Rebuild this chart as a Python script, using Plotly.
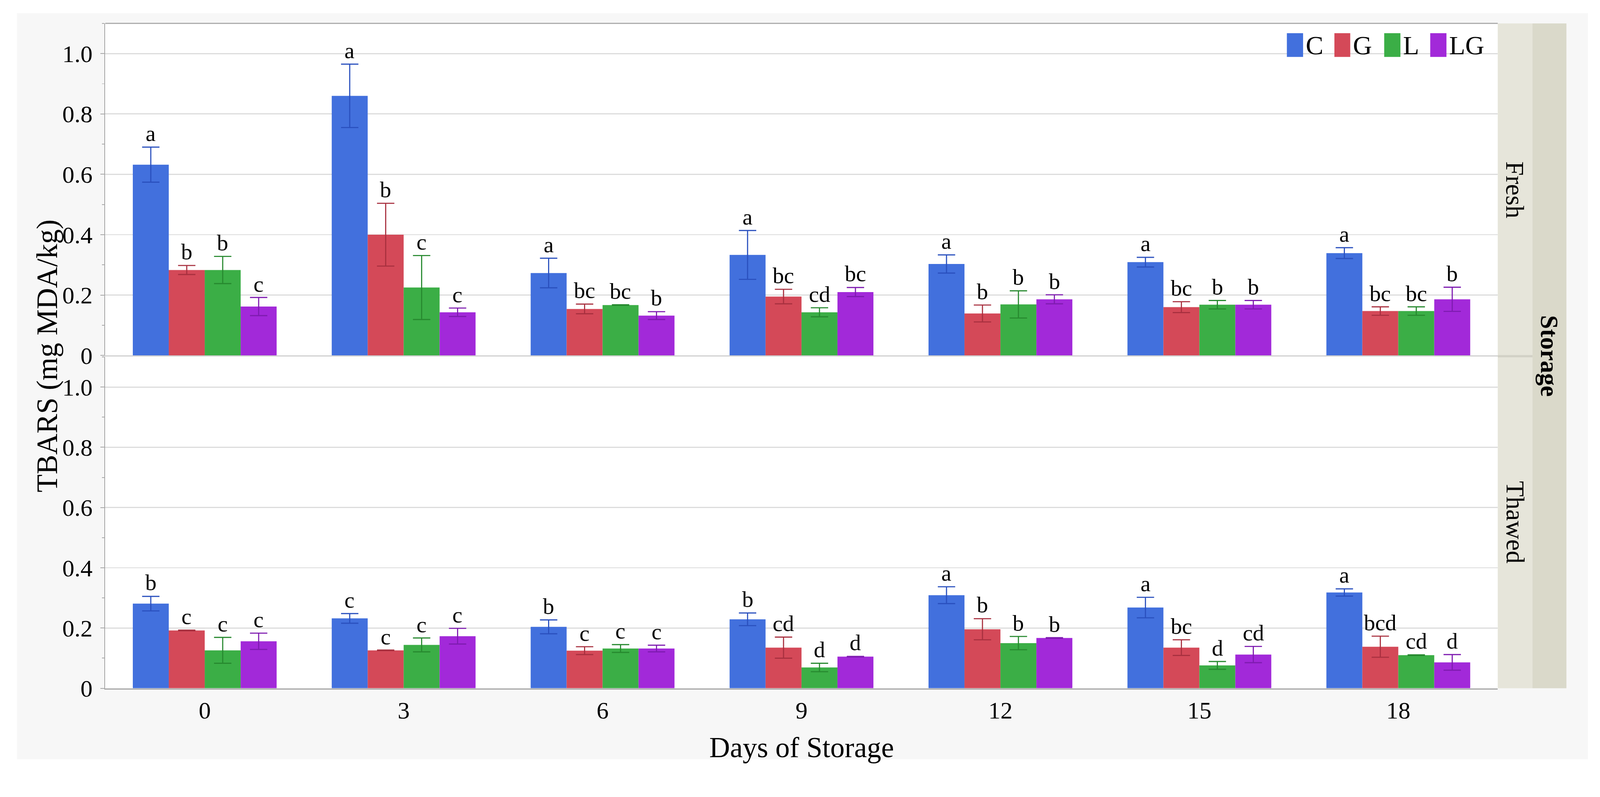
import plotly.graph_objects as go

days = ["0", "3", "6", "9", "12", "15", "18"]
treatments = ["C", "G", "L", "LG"]
bar_colors = ["#4270DD", "#D44958", "#3BAE46", "#A229D9"]
err_colors = ["#2A50BE", "#A8303F", "#27892F", "#7E1BB0"]

# Fresh storage (top panel)
fresh_C = [0.632, 0.860, 0.273, 0.333, 0.303, 0.309, 0.339]
fresh_C_sd = [0.058, 0.105, 0.049, 0.081, 0.030, 0.016, 0.018]
fresh_G = [0.283, 0.400, 0.154, 0.195, 0.139, 0.160, 0.147]
fresh_G_sd = [0.015, 0.104, 0.016, 0.024, 0.028, 0.018, 0.014]
fresh_L = [0.283, 0.225, 0.167, 0.143, 0.169, 0.168, 0.147]
fresh_L_sd = [0.045, 0.106, 0.001, 0.015, 0.045, 0.014, 0.014]
fresh_LG = [0.162, 0.143, 0.132, 0.210, 0.186, 0.168, 0.186]
fresh_LG_sd = [0.030, 0.014, 0.013, 0.015, 0.015, 0.014, 0.040]

fresh_C_let = ["a", "a", "a", "a", "a", "a", "a"]
fresh_G_let = ["b", "b", "bc", "bc", "b", "bc", "bc"]
fresh_L_let = ["b", "c", "bc", "cd", "b", "b", "bc"]
fresh_LG_let = ["c", "c", "b", "bc", "b", "b", "b"]

# Thawed storage (bottom panel)
thawed_C = [0.281, 0.232, 0.204, 0.229, 0.309, 0.268, 0.318]
thawed_C_sd = [0.024, 0.016, 0.023, 0.021, 0.028, 0.034, 0.012]
thawed_G = [0.192, 0.126, 0.125, 0.135, 0.196, 0.135, 0.138]
thawed_G_sd = [0.001, 0.001, 0.013, 0.035, 0.035, 0.026, 0.035]
thawed_L = [0.126, 0.144, 0.132, 0.069, 0.150, 0.076, 0.110]
thawed_L_sd = [0.043, 0.023, 0.013, 0.014, 0.022, 0.013, 0.001]
thawed_LG = [0.156, 0.173, 0.132, 0.105, 0.167, 0.112, 0.086]
thawed_LG_sd = [0.027, 0.026, 0.011, 0.001, 0.001, 0.027, 0.026]

thawed_C_let = ["b", "c", "b", "b", "a", "a", "a"]
thawed_G_let = ["c", "c", "c", "cd", "b", "bc", "bcd"]
thawed_L_let = ["c", "c", "c", "d", "b", "d", "cd"]
thawed_LG_let = ["c", "c", "c", "d", "b", "cd", "d"]

fresh = [(fresh_C, fresh_C_sd, fresh_C_let), (fresh_G, fresh_G_sd, fresh_G_let),
         (fresh_L, fresh_L_sd, fresh_L_let), (fresh_LG, fresh_LG_sd, fresh_LG_let)]
thawed = [(thawed_C, thawed_C_sd, thawed_C_let), (thawed_G, thawed_G_sd, thawed_G_let),
          (thawed_L, thawed_L_sd, thawed_L_let), (thawed_LG, thawed_LG_sd, thawed_LG_let)]

FONT = "Liberation Serif"
W, H = 4241, 2041
L_M, R_M, T_M, B_M = 279, 271, 62, 216
PW, PH = W - L_M - R_M, H - T_M - B_M
BARGAP = 0.277
xpos = list(range(len(days)))


def px_x(p):
    return (p - L_M) / PW


def px_y(p):
    return (H - B_M - p) / PH


fig = go.Figure()
annotations = []
bw = (1 - BARGAP) / len(treatments)

for panel, (data, xa, ya) in enumerate([(fresh, "x2", "y2"), (thawed, "x", "y")]):
    for j, (vals, sds, lets) in enumerate(data):
        fig.add_trace(go.Bar(
            x=xpos, y=vals, name=treatments[j], xaxis=xa, yaxis=ya,
            marker=dict(color=bar_colors[j], line=dict(width=0)),
            error_y=dict(type="data", array=sds, color=err_colors[j], thickness=3, width=23),
            showlegend=False, offsetgroup=str(j),
        ))
        off = (j - (len(treatments) - 1) / 2) * bw
        for i in xpos:
            annotations.append(dict(
                x=i + off, y=vals[i] + sds[i], xref=xa, yref=ya, text=lets[i],
                showarrow=False, yanchor="bottom", xanchor="center", yshift=1,
                font=dict(family=FONT, size=60, color="black")))

# manual legend
leg_sw = [(3411, 3454), (3537, 3579), (3669, 3712), (3791, 3834)]
shapes = [
    dict(type="rect", xref="paper", yref="paper", x0=px_x(45), x1=px_x(4209), y0=px_y(2013), y1=px_y(35),
         fillcolor="#F7F7F7", line=dict(width=0), layer="below"),
    dict(type="rect", xref="paper", yref="paper", x0=0, x1=1, y0=0, y1=1,
         fillcolor="white", line=dict(width=0), layer="below"),
    dict(type="rect", xref="paper", yref="paper", x0=1, x1=px_x(4062), y0=0, y1=1,
         fillcolor="#E6E5DA", line=dict(width=0), layer="below"),
    dict(type="rect", xref="paper", yref="paper", x0=px_x(4062), x1=px_x(4152), y0=0, y1=1,
         fillcolor="#DAD9CA", line=dict(width=0), layer="below"),
    dict(type="line", xref="paper", yref="paper", x0=1, x1=px_x(4062), y0=0.4995, y1=0.4995,
         line=dict(color="#D2D1C6", width=6)),
    dict(type="line", xref="paper", yref="paper", x0=0, x1=1, y0=1, y1=1,
         line=dict(color="#A6A6A6", width=3)),
]
for j, (a, b) in enumerate(leg_sw):
    shapes.append(dict(type="rect", xref="paper", yref="paper", x0=px_x(a), x1=px_x(b),
                       y0=px_y(151), y1=px_y(88), fillcolor=bar_colors[j], line=dict(width=0)))
    annotations.append(dict(x=px_x(b + 5), y=px_y(121), xref="paper", yref="paper", text=treatments[j],
                            showarrow=False, xanchor="left", yanchor="middle",
                            font=dict(family=FONT, size=70, color="black")))

annotations += [
    dict(x=px_x(4016), y=0.75, xref="paper", yref="paper", text="Fresh", textangle=90,
         xanchor="center", yanchor="middle",
         showarrow=False, font=dict(family=FONT, size=68, color="black")),
    dict(x=px_x(4016), y=0.25, xref="paper", yref="paper", text="Thawed", textangle=90,
         xanchor="center", yanchor="middle",
         showarrow=False, font=dict(family=FONT, size=68, color="black")),
    dict(x=px_x(4107), y=0.5, xref="paper", yref="paper", text="<b>Storage</b>", textangle=90,
         xanchor="center", yanchor="middle",
         showarrow=False, font=dict(family=FONT, size=66, color="black")),
    dict(x=px_x(125), y=0.5, xref="paper", yref="paper", text="TBARS (mg MDA/kg)", textangle=-90,
         xanchor="center", yanchor="middle",
         showarrow=False, font=dict(family=FONT, size=78, color="black")),
    dict(x=0.5, y=px_y(1982), xref="paper", yref="paper", text="Days of Storage",
         xanchor="center", yanchor="middle",
         showarrow=False, font=dict(family=FONT, size=76, color="black")),
]

ytick_vals = [0, 0.2, 0.4, 0.6, 0.8, 1.0]
ytick_text = ["0", "0.2", "0.4", "0.6", "0.8", "1.0"]
yax = dict(range=[0, 1.1], tickvals=ytick_vals, ticktext=ytick_text, showgrid=True,
           gridcolor="#DCDCDC", gridwidth=3, zeroline=False, showline=True, linecolor="#A6A6A6",
           linewidth=3, ticks="outside", ticklen=10, tickwidth=2, tickcolor="#A6A6A6",
           ticklabelstandoff=8, tickfont=dict(family=FONT, size=64, color="black"),
           minor=dict(tickmode="linear", tick0=0, dtick=0.1, ticks="outside", ticklen=6,
                      tickcolor="#A6A6A6", showgrid=False))

fig.update_layout(
    width=W, height=H,
    margin=dict(l=L_M, r=R_M, t=T_M, b=B_M, pad=0),
    paper_bgcolor="white", plot_bgcolor="white",
    barmode="group", bargap=BARGAP, bargroupgap=0,
    showlegend=False,
    font=dict(family=FONT, color="black"),
    xaxis=dict(domain=[0, 1], anchor="y", range=[-0.5, 6.5], tickvals=xpos, ticktext=days,
               showgrid=False, zeroline=False, showline=True, linecolor="#A6A6A6", linewidth=3,
               ticks="", tickfont=dict(family=FONT, size=64, color="black")),
    xaxis2=dict(domain=[0, 1], anchor="y2", matches="x", range=[-0.5, 6.5], showticklabels=False,
                showgrid=False, zeroline=False, showline=True, linecolor="#D0D0D0", linewidth=3, ticks=""),
    yaxis=dict(domain=[0, 0.4984], anchor="x", **yax),
    yaxis2=dict(domain=[0.5006, 1], anchor="x2", **yax),
    shapes=shapes,
    annotations=annotations,
)

post = (
    "document.documentElement.style.margin='0';document.body.style.margin='0';"
    "document.body.style.overflow='hidden';"
    "var gd=document.getElementById('{plot_id}');"
    "var s=Math.min(window.innerWidth/%d, window.innerHeight/%d);"
    "if(s<1){gd.style.transformOrigin='0 0';gd.style.transform='scale('+s+')';}" % (W, H)
)
fig.write_html("out.html", post_script=post, config={"displayModeBar": False})
